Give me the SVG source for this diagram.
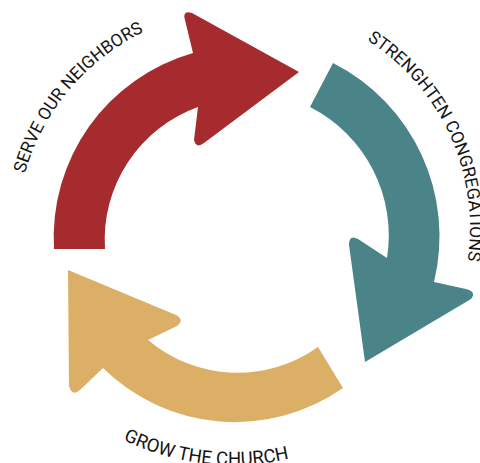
<svg xmlns="http://www.w3.org/2000/svg" width="480" height="463" viewBox="0 0 480 463">
<style>
.lbl{font-family:Roboto,"Liberation Sans",sans-serif;font-size:17.5px;fill:#151515}
.big{font-size:18.5px}
</style>
<defs>
<path id="pServe" d="M 29.7 313.6 A 227 227 0 0 1 282.4 12.4"/>
<path id="pStr" d="M 268.4 6 A 223 223 0 0 1 428.5 357.5"/>
<path id="pGrow" d="M 1.9 313.5 A 252 252 0 0 0 435.6 362.9"/>
</defs>
<rect width="480" height="463" fill="#ffffff"/>
<g id="connectors">
<g id="serve-arrow">
<path fill="#a52b2e" d="M 54 249 A 192 192 0 0 1 193 53 L 185 20 Q 182 10 192 13 L 299 72 L 204 143 Q 196 149 194 140 L 198 107 A 141 141 0 0 0 105 249 Z"/>
</g>
<g id="strengthen-arrow">
<path fill="#4a8489" d="M 333 63 A 194 194 0 0 1 434 282 L 466 289 Q 477 292 471 299 L 365 362 L 349 245 Q 349 234 358 239 L 387 258 A 144 144 0 0 0 310 107 Z"/>
</g>
<g id="grow-arrow">
<path fill="#dbaf66" d="M 343 388 A 188 188 0 0 1 103 368 L 80 390 Q 72 397 69 386 L 68 270 L 176 315 Q 185 320 177 326 L 148 340 A 138.5 138.5 0 0 0 318 347 Z"/>
</g>
</g>
<g id="node-serve">
<text class="lbl"><textPath href="#pServe" startOffset="50%" text-anchor="middle">SERVE OUR NEIGHBORS</textPath></text>
</g>
<g id="node-strengthen">
<text class="lbl"><textPath href="#pStr" startOffset="50%" text-anchor="middle">STRENGHTEN CONGREGATIONS</textPath></text>
</g>
<g id="node-grow">
<text class="lbl big"><textPath href="#pGrow" startOffset="50%" text-anchor="middle">GROW THE CHURCH</textPath></text>
</g>
</svg>
